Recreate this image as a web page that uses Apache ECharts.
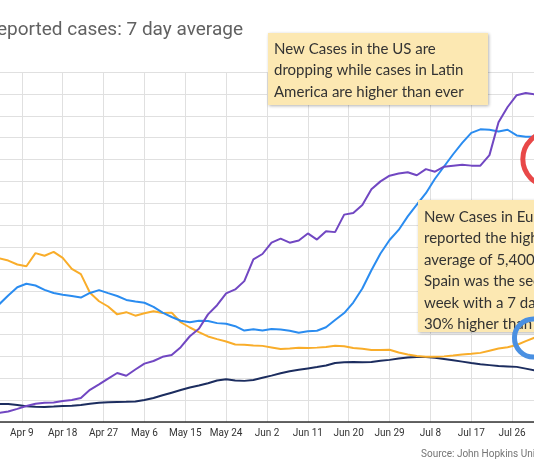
<!DOCTYPE html>
<html><head><meta charset="utf-8">
<script src="https://cdn.jsdelivr.net/npm/echarts@6/dist/echarts.min.js"></script>
<style>html,body{margin:0;padding:0;background:#fff}#c{width:534px;height:462px}</style>
</head><body><div id="c"></div>
<script>
// x values: days since Mar 31, 2020
const tickLabels = ['Mar 31','Apr 9','Apr 18','Apr 27','May 6','May 15','May 24','Jun 2','Jun 11','Jun 20','Jun 29','Jul 8','Jul 17','Jul 26','Aug 4'];
const days = [4,6,8,10,12,14,16,18,20,22,24,26,28,30,32,34,36,38,40,42,44,46,48,50,52,54,56,58,60,62,64,66,68,70,72,74,76,78,80,82,84,86,88,90,92,94,96,98,100,102,104,106,108,110,112,114,116,118,120,122];
const usCases = [26900,28900,30800,31600,31200,30200,29500,29100,28800,28450,
  29500,30150,29450,28800,27900,27550,27250,26300,25000,24000,
  23150,22800,23150,23100,22600,22450,21900,20900,21180,20900,
  21250,21150,20870,20400,20750,20850,21650,23300,24900,27300,
  30500,34700,38500,41600,43900,47000,49700,52300,55600,58400,
  61200,63800,66100,66900,66800,66400,66800,65500,65200,65200];
const latamCases = [2100,2400,3000,3650,4150,4380,4480,4800,5030,5500,
  7350,8600,9900,11200,10580,12000,13350,13950,14900,15300,
  17100,19600,21300,24600,26700,29400,30300,32200,37190,38400,
  41000,41900,40990,41500,43100,41700,43600,43400,47400,47750,
  49600,53200,55000,56300,56800,57100,56400,57800,57220,58360,
  58590,58800,58600,58600,61000,68500,72000,74700,75200,74900];
const europeCases = [37400,36900,36000,35600,38600,38000,38900,37500,35000,33800,
  29550,27600,26400,24600,25100,24300,24850,25300,24900,25000,
  22800,21600,20550,19550,18950,18400,17700,17650,17500,17400,
  17050,16700,16800,16950,16900,17000,17150,17450,17300,16900,
  16750,16450,16450,16500,15900,15450,15100,14900,14900,15000,
  15200,15450,15600,15800,16300,16800,17100,17600,18500,19300];
const asiaCases = [4100,4100,3900,3620,3480,3430,3520,3650,3730,3900,
  4180,4400,4500,4570,4610,4700,5050,5490,6100,6700,
  7300,7900,8350,8850,9500,9750,9500,9400,9600,10100,
  10600,11150,11600,11950,12250,12550,12900,13500,13650,13700,
  13650,13700,14000,14200,14500,14750,14860,14860,14700,14400,
  14100,13800,13480,13200,13000,12800,12700,12600,12200,11800];
const titleText = 'reported cases: 7 day average';
const note1 = ['New Cases in the US are','dropping while cases in Latin','America are higher than ever'];
const note2 = ['New Cases in Europe','reported the highest 7 day','average of 5,400 cases.','Spain was the second this','week with a 7 day average','30% higher than last week'];
const sourceText = 'Source: John Hopkins University';
// annotation circle anchors (data coords)
const redRing = [125.3, 60100];
const blueRing = [121.7, 19200];

function pairs(vals){ return days.map((d,i)=>[d, vals[i]]); }
function line(name, vals, color){
  return {name, type:'line', data:pairs(vals), showSymbol:false, symbol:'none',
    lineStyle:{color, width:2}, itemStyle:{color}, z:2};
}
const chart = echarts.init(document.getElementById('c'));
chart.setOption({
  animation:false,
  backgroundColor:'#ffffff',
  grid:{left:-19, right:-19, top:72, bottom:40, containLabel:false, outerBoundsMode:'none'},
  xAxis:{type:'value', min:0, max:126, interval:9,
    axisLine:{show:true, onZero:false, lineStyle:{color:'#333333', width:1.5}},
    axisTick:{show:false},
    axisLabel:{formatter:v=>tickLabels[Math.round(v/9)]||'', color:'#333333', fontFamily:'Roboto', fontSize:10, margin:6},
    splitLine:{show:true, lineStyle:{color:'#e0e0e0', width:1}}},
  yAxis:{type:'value', min:0, max:80000, interval:5000,
    axisLabel:{show:false}, axisLine:{show:false}, axisTick:{show:false},
    splitLine:{show:true, lineStyle:{color:'#e0e0e0', width:1}}},
  series:[
    line('Asia', asiaCases, '#1c2d5f'),
    line('Europe', europeCases, '#f9ad2a'),
    line('US', usCases, '#2a8cf0'),
    line('Latin America', latamCases, '#7147c2')
  ]
});
const rp = chart.convertToPixel({gridIndex:0}, redRing);
const bp = chart.convertToPixel({gridIndex:0}, blueRing);
const noteFont = {fontFamily:'Lato', fontSize:15, fill:'#333333', lineHeight:21.5};
chart.setOption({graphic:[
  {type:'text', x:243, y:30, z:100, style:{text:titleText, align:'right', verticalAlign:'middle', fontFamily:'Roboto', fontSize:19, fill:'#616161'}},
  {type:'rect', x:268, y:33, z:100, shape:{width:220, height:72}, style:{fill:'#fce8b2', shadowBlur:3, shadowOffsetX:1, shadowOffsetY:1, shadowColor:'rgba(0,0,0,0.3)'}},
  {type:'text', x:274, y:38.3, z:101, style:Object.assign({text:note1.join('\n'), align:'left', verticalAlign:'top'}, noteFont)},
  {type:'rect', x:418, y:200, z:100, shape:{width:150, height:132}, style:{fill:'#fce8b2', shadowBlur:3, shadowOffsetX:1, shadowOffsetY:1, shadowColor:'rgba(0,0,0,0.3)'}},
  {type:'text', x:424, y:206, z:101, style:Object.assign({text:note2.join('\n'), align:'left', verticalAlign:'top'}, noteFont)},
  {type:'circle', z:102, shape:{cx:rp[0], cy:rp[1], r:27}, style:{fill:'none', stroke:'#e84848', lineWidth:5}},
  {type:'circle', z:102, shape:{cx:bp[0], cy:bp[1], r:19}, style:{fill:'none', stroke:'#4a90e2', lineWidth:5}},
  {type:'text', x:421, y:454, z:100, style:{text:sourceText, align:'left', verticalAlign:'middle', fontFamily:'Roboto', fontSize:10, fill:'#757575'}}
]});
</script></body></html>
